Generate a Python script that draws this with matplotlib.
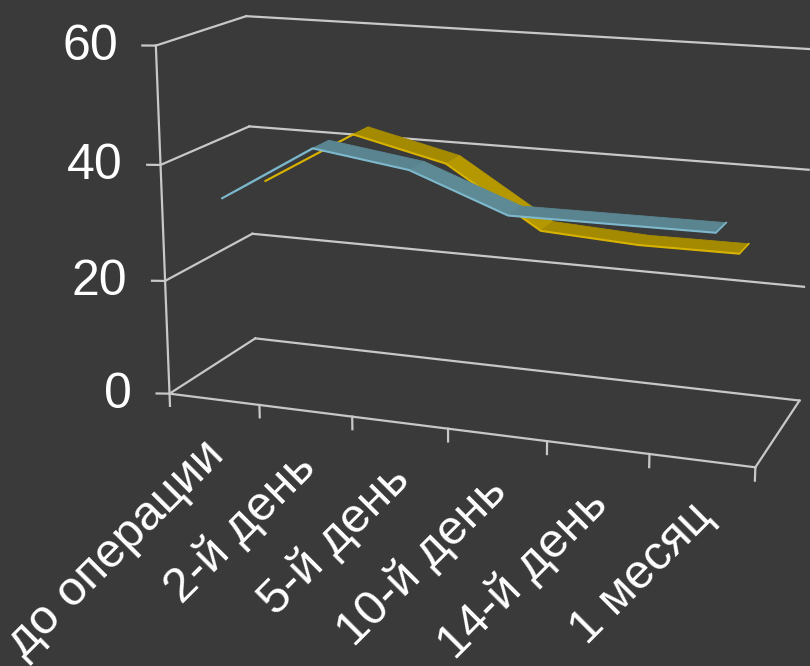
import numpy as np
import matplotlib
matplotlib.use('Agg')
import matplotlib.pyplot as plt
import matplotlib.colors as mcolors
import matplotlib.transforms as mtransforms
from mpl_toolkits.mplot3d import proj3d
from mpl_toolkits.mplot3d.art3d import Poly3DCollection

# ---- data ----
categories = ['до операции', '2-й день', '5-й день', '10-й день', '14-й день', '1 месяц']
series_blue = [33.8, 43.7, 41.4, 35.3, 35.4, 35.5]
series_yellow = [33.1, 42.7, 38.9, 28.7, 27.8, 27.9]
value_ticks = [0, 20, 40, 60]

# ---- style ----
BG = '#3a3a3a'
GRID = '#c8c8c8'
BLUE_FACE, BLUE_EDGE = '#5a8590', '#7db8cc'
YEL_FACE, YEL_EDGE = '#a48a00', '#d8b200'
FONT = 'Liberation Sans'
FS_Y = 36
FS_X = 35

FIG_W, FIG_H, DPI = 810, 666, 100
S = 600                      # square axes side, px
CENTER = (483, 226)          # where the box centre lands (px from top-left)
W_PX, D_PX, H_PX = 612, 200, 361

fig = plt.figure(figsize=(FIG_W / DPI, FIG_H / DPI), dpi=DPI, facecolor=BG)
fx = 0.095 / 0.185
left = (CENTER[0] - fx * S) / FIG_W
bottom = (FIG_H - CENTER[1] - fx * S) / FIG_H
ax = fig.add_axes([left, bottom, S / FIG_W, S / FIG_H], projection='3d')
ax.set_facecolor(BG)
ax.patch.set_alpha(0)

ax.set_proj_type('persp', focal_length=0.65)
ax.view_init(elev=14.5, azim=-70)
ppu = S / 1.85
box = np.array([W_PX, D_PX, H_PX], dtype=float) / ppu
zoom = np.linalg.norm(box) / (1.8294640721620434 * 25 / 24)
ax.set_box_aspect(box, zoom=zoom)
ncat = len(categories)
ax.set_xlim(0, ncat)
ax.set_ylim(0, 1)
ax.set_zlim(0, 60)
ax.set_axis_off()
ax.computed_zorder = False
if hasattr(ax, 'set_top_view'):
    ax.set_top_view()

glw = 1.6
kw = dict(color=GRID, lw=glw, zorder=1, clip_on=False)
# walls / floor
for z in value_ticks:
    ax.plot([0, 0], [0, 1], [z, z], **kw)
    ax.plot([0, ncat], [1, 1], [z, z], **kw)
ax.plot([0, 0], [0, 0], [0, value_ticks[-1]], **kw)
ax.plot([0, ncat], [0, 0], [0, 0], **kw)
ax.plot([ncat, ncat], [0, 1], [0, 0], **kw)
# tick marks
for k in range(ncat + 1):
    ax.plot([k, k], [0, 0], [0, -2.2], **kw)
for z in value_ticks:
    ax.plot([0, -0.125], [0, -0.02], [z, z], **kw)

# ribbons
xs = np.arange(ncat) + 0.5


def shade(color, dv):
    rgb = np.array(mcolors.to_rgb(color))
    f = 1.0 + 0.10 * np.clip((-dv - 4.0) / 6.0, 0, 1.2)
    return tuple(np.clip(rgb * f, 0, 1))


def ribbon(vals, d0, d1, face, edge, zo):
    verts, cols = [], []
    for i in range(len(vals) - 1):
        verts.append([(xs[i], d0, vals[i]), (xs[i + 1], d0, vals[i + 1]),
                      (xs[i + 1], d1, vals[i + 1]), (xs[i], d1, vals[i])])
        cols.append(shade(face, vals[i + 1] - vals[i]))
    pc = Poly3DCollection(verts, facecolors=cols, edgecolors=cols, linewidths=0.6, zorder=zo)
    pc.set_clip_on(False)
    ax.add_collection3d(pc)
    ax.plot(xs, [d0] * len(vals), vals, color=edge, lw=1.5, zorder=zo + 0.1,
            solid_capstyle='butt', clip_on=False)
    ax.plot([xs[-1], xs[-1]], [d0, d1], [vals[-1], vals[-1]], color=edge, lw=1.2,
            zorder=zo + 0.1, clip_on=False)


ribbon(series_yellow, 0.65, 0.85, YEL_FACE, YEL_EDGE, 2)
ribbon(series_blue, 0.15, 0.35, BLUE_FACE, BLUE_EDGE, 3)

# labels (positioned through the 3D projection)
M = ax.get_proj()
for v in value_ticks:
    px, py, _ = proj3d.proj_transform(0, 0, v, M)
    tr = mtransforms.offset_copy(ax.transData, fig=fig, x=-38, y=-1, units='dots')
    ax.text2D(px, py, str(v), transform=tr, ha='right', va='center',
              fontsize=FS_Y, color='white', family=FONT)
for i, lab in enumerate(categories):
    px, py, _ = proj3d.proj_transform(xs[i], 0, 0, M)
    tr = mtransforms.offset_copy(ax.transData, fig=fig, x=19, y=-33, units='dots')
    ax.text2D(px, py, lab, transform=tr, ha='right', va='top', rotation=45,
              fontsize=FS_X, color='white', family=FONT)

fig.savefig('out.png', dpi=DPI, facecolor=BG)
